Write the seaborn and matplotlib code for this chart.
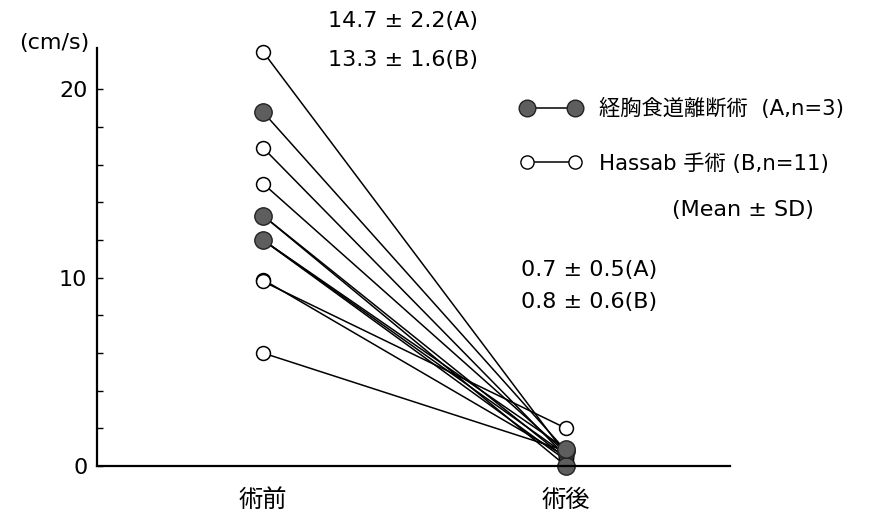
import numpy as np
import pandas as pd
import matplotlib
matplotlib.use("Agg")
import matplotlib.pyplot as plt
import seaborn as sns
from matplotlib.lines import Line2D

sns.set_theme(style="white")
plt.rcParams['font.family'] = ['DejaVu Sans', 'Noto Sans CJK JP']
plt.rcParams['text.color'] = 'black'
plt.rcParams['xtick.color'] = 'black'
plt.rcParams['ytick.color'] = 'black'
plt.rcParams['xtick.labelcolor'] = 'black'
plt.rcParams['ytick.labelcolor'] = 'black'

# ---- data ----
time_labels = ["術前", "術後"]
a_pre = [18.8, 13.3, 12.0]
a_post = [0.8, 0.0, 0.9]
b_pre = [22.0, 16.9, 15.0, 13.3, 12.0, 12.0, 9.9, 9.8, 6.0]
b_post = [0.6, 0.5, 0.7, 0.4, 0.6, 0.3, 0.5, 2.0, 0.8]
label_a = "経胸食道離断術  (A,n=3)"
label_b = "Hassab 手術 (B,n=11)"
pre_stats = ["14.7 ± 2.2(A)", "13.3 ± 1.6(B)"]
post_stats = ["0.7 ± 0.5(A)", "0.8 ± 0.6(B)"]
note = "(Mean ± SD)"
unit_label = "(cm/s)"


def long_df(pre, post, group):
    rows = []
    for i, (p, q) in enumerate(zip(pre, post)):
        rows.append(dict(patient=f"{group}{i}", t=0, value=p, group=group))
        rows.append(dict(patient=f"{group}{i}", t=1, value=q, group=group))
    return pd.DataFrame(rows)


df_a = long_df(a_pre, a_post, "A")
df_b = long_df(b_pre, b_post, "B")

fig = plt.figure(figsize=(8.76, 5.21), dpi=100)
ax = fig.add_axes([97 / 876, 55 / 521, 633 / 876, 418 / 521])

fill_col = "#5e5e5e"
sns.lineplot(data=df_b, x="t", y="value", units="patient", estimator=None,
             color="black", linewidth=1.1, marker="o", markersize=10,
             markerfacecolor="white", markeredgecolor="black",
             markeredgewidth=1.1, ax=ax, clip_on=False, legend=False)
sns.lineplot(data=df_a, x="t", y="value", units="patient", estimator=None,
             color="black", linewidth=1.1, marker="o", markersize=12.5,
             markerfacecolor=fill_col, markeredgecolor="#222222",
             markeredgewidth=1.0, ax=ax, clip_on=False, legend=False)

ax.set_xlim(-0.548, 1.541)
ax.set_ylim(0, 22.2)
for s in ["top", "right"]:
    ax.spines[s].set_visible(False)
for s in ["left", "bottom"]:
    ax.spines[s].set_color("black")
    ax.spines[s].set_linewidth(1.6)

fs = 16
ax.set_yticks([0, 10, 20])
ax.set_yticks(np.arange(2, 20, 2), minor=True)
ax.tick_params(axis="y", which="both", direction="in", length=4, width=1.0,
               color="black", labelcolor="black", labelsize=fs, pad=7,
               left=True)
ax.set_xticks([0, 1])
ax.set_xticklabels(time_labels, fontsize=17.5)
ax.tick_params(axis="x", length=0, pad=16, labelcolor="black")
ax.set_xlabel("")
ax.set_ylabel("")

ax.text(-0.012, 1.012, unit_label, transform=ax.transAxes, ha="right",
        va="center", fontsize=fs, color="black")
ax.text(0.215, 23.66, pre_stats[0], fontsize=fs, va="center", ha="left",
        color="black")
ax.text(0.215, 21.54, pre_stats[1], fontsize=fs, va="center", ha="left",
        color="black")
ax.text(0.851, 10.40, post_stats[0], fontsize=fs, va="center", ha="left",
        color="black")
ax.text(0.851, 8.70, post_stats[1], fontsize=fs, va="center", ha="left",
        color="black")
ax.text(1.35, 13.58, note, fontsize=fs, va="center", ha="left",
        color="black")

handles = [
    Line2D([], [], color="black", linewidth=1.1, marker="o", markersize=12,
           markerfacecolor=fill_col, markeredgecolor="#222222"),
    Line2D([], [], color="black", linewidth=1.1, marker="o", markersize=9.5,
           markerfacecolor="white", markeredgecolor="black"),
]
lfs = 15.3
leg = fig.legend(handles, [label_a, label_b], loc="upper left",
                 bbox_to_anchor=(521 / 876, (521 - 98) / 521), frameon=False,
                 numpoints=2, fontsize=lfs, borderpad=0, handlelength=2.85,
                 handletextpad=0.8, labelspacing=1.6, borderaxespad=0)
for t in leg.get_texts():
    t.set_color("black")

fig.savefig("out.png", dpi=100, facecolor="white")
